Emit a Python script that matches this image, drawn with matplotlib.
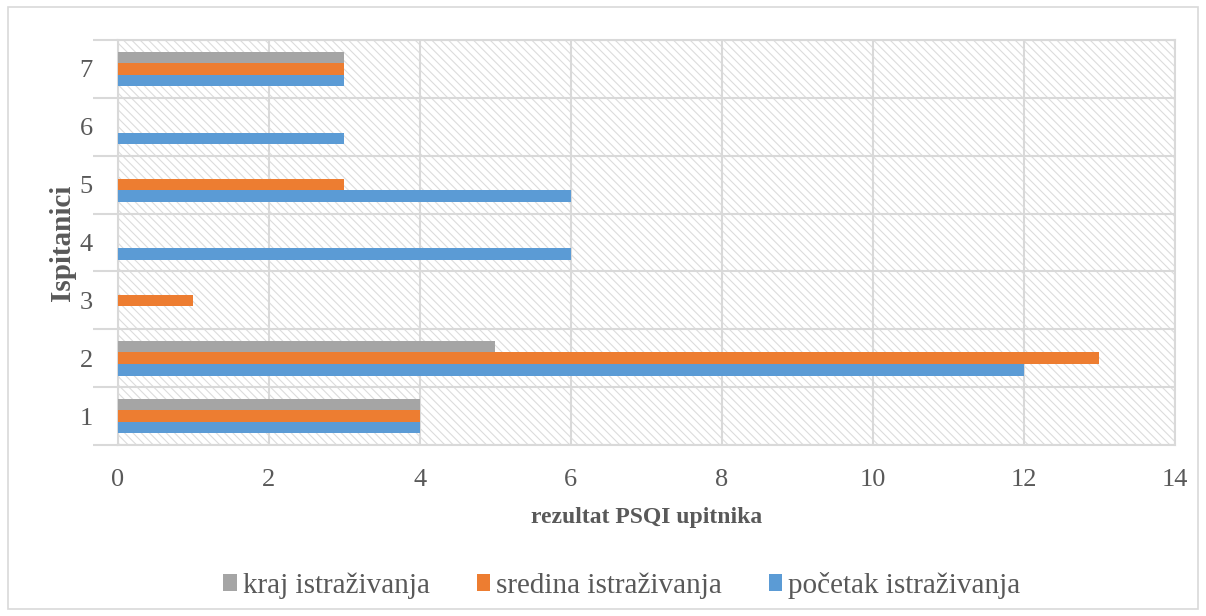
import numpy as np
import matplotlib
matplotlib.use('Agg')
import matplotlib.pyplot as plt
from matplotlib.patches import Rectangle

plt.rcParams['font.family'] = ['Liberation Serif', 'DejaVu Serif']
plt.rcParams['hatch.linewidth'] = 0.8

ispitanici = ['1', '2', '3', '4', '5', '6', '7']
pocetak = [4, 12, 0, 6, 6, 3, 3]
sredina = [4, 13, 1, 0, 3, 0, 3]
kraj = [4, 5, 0, 0, 0, 0, 3]

c_blue = '#5B9BD5'
c_orange = '#ED7D31'
c_gray = '#A5A5A5'
grid_c = '#D9D9D9'
text_c = '#595959'

fig = plt.figure(figsize=(12.06, 6.16), dpi=100)
ax = fig.add_axes([0.0978, 0.2776, 0.8762, 0.6574])

# outer border of chart
fig.patches.append(Rectangle((0.007, 0.012), 0.986, 0.976, transform=fig.transFigure,
                             fill=False, edgecolor=grid_c, linewidth=1.2))

# hatched plot area background
ax.add_patch(Rectangle((0, 0), 1, 1, transform=ax.transAxes, facecolor='white',
                       edgecolor='#DCDCDC', hatch='\\\\\\\\', linewidth=0, zorder=0))

y = np.arange(1, len(ispitanici) + 1)
h = 0.2
ax.barh(y - h, pocetak, height=h, color=c_blue, label='početak istraživanja', zorder=3)
ax.barh(y, sredina, height=h, color=c_orange, label='sredina istraživanja', zorder=3)
ax.barh(y + h, kraj, height=h, color=c_gray, label='kraj istraživanja', zorder=3)

ax.set_xlim(0, 14)
ax.set_ylim(0.5, 7.5)
ax.set_xticks(np.arange(0, 15, 2))
ax.set_yticks(y)
ax.set_yticklabels(ispitanici)
ax.set_yticks(np.arange(0.5, 7.6, 1), minor=True)

ax.grid(axis='x', which='major', color=grid_c, linewidth=1.5, zorder=1)
ax.grid(axis='y', which='minor', color=grid_c, linewidth=1.5, zorder=1)
ax.tick_params(axis='y', which='major', length=0, labelsize=19, colors=text_c, pad=18)
ax.tick_params(axis='y', which='minor', length=18, color=grid_c, width=1.5)
ax.tick_params(axis='x', length=0, labelsize=19, colors=text_c, pad=17)
for s in ax.spines.values():
    s.set_color(grid_c)
    s.set_linewidth(1.5)

ax.set_xlabel('rezultat PSQI upitnika', fontsize=17, fontweight='bold', color=text_c, labelpad=12)
ax.set_ylabel('Ispitanici', fontsize=21, fontweight='bold', color=text_c, labelpad=3)

handles, labels = ax.get_legend_handles_labels()
ax.legend(handles[::-1], labels[::-1], loc='center', bbox_to_anchor=(0.477, -0.346),
          ncol=3, frameon=False, fontsize=21, handlelength=0.47, handleheight=0.5,
          handletextpad=0.2, columnspacing=1.6, labelcolor=text_c)

fig.savefig('out.png', dpi=100)
